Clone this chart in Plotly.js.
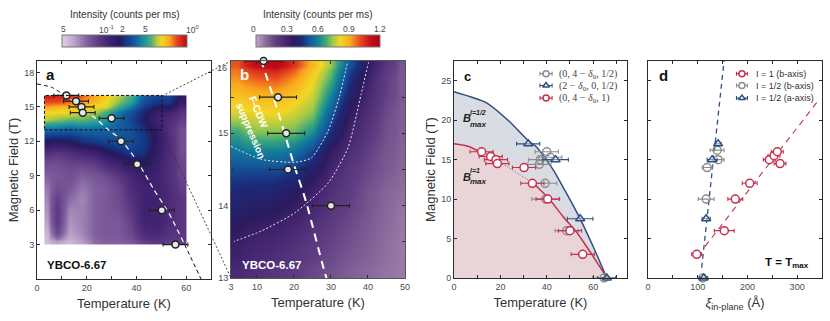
<!DOCTYPE html>
<html>
<head>
<meta charset="utf-8">
<script src="https://cdn.plot.ly/plotly-3.0.1.min.js"></script>
<style>html,body{margin:0;padding:0;background:#fff}#chart{width:830px;height:321px}</style>
</head>
<body>
<div id="chart"></div>
<script>
const W = 830, H = 321;

// field scan, panel a (cell edges, values are colour bar position 0..1)
const aEdgesT = [3, 5.5, 10.5, 15.5, 20.5, 25.5, 30.5, 35.5, 40.5, 45.5, 50.5, 55.5, 60];
const aEdgesB = [3, 3.5, 4.5, 5.5, 6.5, 7.5, 8.5, 9.5, 10.5, 11.5, 12.5, 13.5, 14.25, 14.75, 15.25, 15.75, 16];
const aZ = [
  [.04,.10,.05,.10,.18,.20,.20,.22,.28,.30,.28,.28],
  [.06,.26,.10,.14,.20,.22,.22,.26,.34,.36,.32,.30],
  [.10,.30,.12,.15,.20,.22,.22,.28,.38,.38,.34,.30],
  [.12,.30,.14,.15,.20,.22,.24,.30,.38,.38,.34,.30],
  [.14,.28,.18,.14,.20,.22,.25,.32,.38,.38,.34,.30],
  [.16,.24,.22,.16,.20,.22,.26,.34,.38,.38,.34,.28],
  [.20,.22,.24,.20,.22,.25,.30,.36,.40,.38,.33,.26],
  [.24,.24,.26,.26,.28,.34,.38,.42,.44,.40,.33,.26],
  [.32,.30,.32,.36,.38,.44,.48,.52,.50,.42,.34,.24],
  [.46,.44,.46,.50,.52,.54,.56,.56,.52,.44,.34,.24],
  [.60,.60,.58,.60,.60,.60,.58,.56,.50,.42,.32,.24],
  [.76,.74,.72,.72,.70,.66,.60,.54,.46,.38,.34,.28],
  [.80,.80,.80,.78,.76,.70,.62,.56,.48,.40,.38,.30],
  [.86,.84,.84,.82,.80,.78,.70,.62,.52,.46,.46,.36],
  [.92,.92,.90,.87,.84,.80,.74,.68,.56,.52,.52,.42],
  [.97,.96,.94,.90,.86,.81,.76,.70,.58,.54,.54,.44]
];

// zoomed field scan, panel b (counts per ms)
const bEdgesT = [3, 6.5, 12.5, 17.5, 22.5, 27.5, 32.5, 37.5, 42.5, 47.5, 50];
const bEdgesB = [13, 13.25, 13.75, 14.125, 14.375, 14.625, 14.875, 15.125, 15.375, 15.625, 15.875, 16];
const bZ = [
  [.28,.25,.22,.20,.17,.15,.12,.10,.08,.07],
  [.33,.30,.28,.25,.21,.18,.15,.12,.09,.07],
  [.40,.38,.36,.33,.28,.22,.18,.14,.10,.08],
  [.44,.43,.42,.39,.32,.25,.20,.15,.11,.09],
  [.50,.50,.50,.47,.40,.29,.22,.17,.13,.10],
  [.58,.60,.60,.58,.49,.34,.26,.19,.14,.11],
  [.66,.72,.72,.70,.62,.44,.30,.22,.15,.12],
  [.78,.80,.81,.78,.72,.52,.34,.25,.16,.12],
  [.85,.87,.88,.84,.78,.60,.40,.28,.18,.13],
  [.93,.98,1.00,.93,.82,.68,.46,.31,.19,.13],
  [1.00,1.12,1.15,1.05,.88,.74,.52,.36,.22,.14]
];

// dotted contours in panel b
const contourInnerT = [3, 11.2, 20.2, 24.7, 29.2, 32.4, 34.5];
const contourInnerB = [14.82, 14.64, 14.6, 14.66, 15.03, 15.53, 15.99];
const contourOuterT = [3.5, 11.2, 20.2, 29.2, 34.6, 38.1, 40.2];
const contourOuterB = [13.5, 13.65, 13.9, 14.31, 14.8, 15.53, 16];

// peak positions used in a and b
const peakT = [11.8, 15.7, 17.9, 18.4, 30, 33.8, 40.3, 50.2, 55.7];
const peakB = [16, 15.5, 15, 14.5, 14, 12, 10, 6, 3];
const peakErr = [5, 5, 5, 5, 5, 5, 5, 5, 5];

// boundary curves
const fitT = [0, 6, 10.5, 15.7, 19.8, 23.3, 28.2, 33.5, 40.5, 47, 52.9, 59.4, 66];
const fitB = [17, 16.7, 16.1, 15.3, 14.6, 14.05, 13.1, 12.2, 10.2, 7.8, 5.8, 3, 0];
const halfFitT = [0, 14, 24, 32, 35.6, 42.8, 48, 54.4, 60, 65.9];
const halfFitB = [23.6, 22.2, 19.8, 17.4, 16.6, 13.7, 11, 7.5, 4, 0];

// panel c
const redT = [11.9, 15.8, 18.1, 18.7, 30.2, 33.8, 40.4, 50, 55.5];
const redB = [16, 15.4, 15, 14.5, 14, 12, 10, 6, 3];
const redErr = [5, 5, 5, 5, 5, 5, 5, 5, 5];
const grayT = [40, 41.5, 37.2, 36.8, 39.3, 39.6, 48.6, 64.7];
const grayB = [16, 15.3, 15, 14.4, 12, 10, 6, 0];
const grayErr = [5, 5, 5, 5, 5, 6, 5, 5];
const blueT = [32, 43.8, 54.4, 65.9];
const blueB = [17, 15, 7.5, 0];
const blueErr = [5, 5.5, 5.5, 4];

// panel d
const redXi = [98, 153.5, 175.6, 204.6, 244, 253.5, 260, 265.6];
const redXiB = [3, 6, 10, 12, 15, 15.5, 16, 14.5];
const redXiErr = [10, 20, 15, 15, 12, 12, 12, 12];
const grayXi = [139, 141, 119, 117, 110];
const grayXiB = [16.2, 15, 14, 10, 0];
const grayXiErr = [14, 12, 10, 16, 8];
const blueXi = [141, 129, 117, 112];
const blueXiB = [17, 15, 7.5, 0];
const blueXiErr = [6, 10, 8, 8];
const redTrendXi = [114.7, 342.7];
const redTrendB = [4, 22.5];
const blueTrendXi = [108, 153];
const blueTrendB = [1.3, 27.5];

// legends
const legendBs = [25.9, 24.4, 22.8];
const legendLabelsC = ['(0, 4 − <i>δ</i><sub>0</sub>, 1/2)', '(2 − <i>δ</i><sub>0</sub>, 0, 1/2)', '(0, 4 − <i>δ</i><sub>0</sub>, 1)'];
const legendLabelsD = ['I = 1 (b-axis)', 'I = 1/2 (b-axis)', 'I = 1/2 (a-axis)'];

// colour bars
const barATickPx = [63, 106, 122, 145, 192];
const barATickText = ['5', '10<sup>-1</sup>', '2', '5', '10<sup>0</sup>'];
const barBTickPx = [253, 287, 318, 349, 380];
const barBTickText = ['0', '0.3', '0.6', '0.9', '1.2'];

const colorsA = [[0,'#e0d2e4'],[.1,'#b9a1c8'],[.2,'#80609e'],[.3,'#5a3681'],[.38,'#3f2270'],[.46,'#241a5e'],[.52,'#143a8a'],[.6,'#1465a5'],[.66,'#1a96a0'],[.72,'#5cb070'],[.76,'#b5cc40'],[.8,'#f5d820'],[.86,'#f9a81e'],[.92,'#e84020'],[1,'#b80a14']];
const colorsB = [[0,'#bfa9c8'],[.08,'#8a6a9c'],[.16,'#5f3d82'],[.24,'#452670'],[.3,'#2c1a5e'],[.37,'#1b2a78'],[.43,'#14559a'],[.5,'#127e9a'],[.56,'#3aa77a'],[.62,'#9fc94a'],[.68,'#f4d524'],[.76,'#f9a81e'],[.84,'#e84a20'],[.92,'#c4101a'],[1,'#b00012']];

const INK = '#2b2b2b', TICKTXT = '#4a4a4a';
const RED = '#c62f4e', GRAY = '#8d8d8d', BLUE = '#2f4f80';
const SANS = '"Liberation Sans", Arial, sans-serif';

const px = x => x / W;
const py = y => 1 - y / H;
function dom(x0, x1, y0, y1) {
  return { x: [px(x0), px(x1)], y: [py(y1), py(y0)] };
}
const pa = dom(37, 211, 61, 279), pb = dom(231, 405, 61, 278), pc = dom(454, 627, 61, 278), pd = dom(648, 822, 61, 278);

// labelled ticks plus unlabelled minor ones
function axis(domain, range, tickvals, minorvals, anchor, extra) {
  return Object.assign({
    domain, range, anchor, tickmode: 'array', tickvals, ticktext: tickvals.map(String),
    minor: { tickmode: 'array', tickvals: minorvals, ticks: 'inside', ticklen: 3, tickwidth: 1, tickcolor: INK, showgrid: false },
    showgrid: false, zeroline: false, showline: true, mirror: 'ticks', linecolor: INK, linewidth: 1,
    ticks: 'inside', ticklen: 3, tickwidth: 1, tickcolor: INK,
    tickfont: { family: SANS, size: 9, color: TICKTXT }
  }, extra || {});
}
const axTitle = (text, standoff) => ({ text, standoff, font: { family: SANS, size: 13, color: '#333' } });

function dots(x, y, err, xa, ya, symbol, fill, line, size) {
  return {
    x, y, xaxis: xa, yaxis: ya, type: 'scatter', mode: 'markers', cliponaxis: false, hoverinfo: 'skip',
    error_x: { type: 'data', array: err, visible: true, color: line, thickness: 1.1, width: 2 },
    marker: { symbol, size, color: fill, line: { color: line, width: 1.5 } }
  };
}
function curve(x, y, xa, ya, color, width, dash) {
  return { x, y, xaxis: xa, yaxis: ya, type: 'scatter', mode: 'lines', hoverinfo: 'skip', line: { color, width, dash, shape: 'spline', smoothing: 0.6 } };
}

const traces = [
  // panel a
  { type: 'heatmap', x: aEdgesT, y: aEdgesB, z: aZ, xaxis: 'x', yaxis: 'y', zsmooth: 'best', zmin: 0, zmax: 1, colorscale: colorsA, hoverinfo: 'skip',
    colorbar: { orientation: 'h', x: px(62), xanchor: 'left', y: py(48), yanchor: 'bottom', len: 125, lenmode: 'pixels', thickness: 12, thicknessmode: 'pixels', xpad: 0, ypad: 0, outlinecolor: '#777', outlinewidth: 1, showticklabels: false, ticks: '' } },
  curve(fitT.slice(0, 3), fitB.slice(0, 3), 'x', 'y', '#111', 1, '4px,3px'),
  curve(fitT.slice(2, 12), fitB.slice(2, 12), 'x', 'y', '#fff', 1.2, '5px,4px'),
  curve(fitT.slice(11), fitB.slice(11), 'x', 'y', '#111', 1, '4px,3px'),
  dots(peakT, peakB, peakErr, 'x', 'y', 'circle', '#e6e6e6', '#222', 7),

  // panel b
  { type: 'heatmap', x: bEdgesT, y: bEdgesB, z: bZ, xaxis: 'x2', yaxis: 'y2', zsmooth: 'best', zmin: 0, zmax: 1.2, colorscale: colorsB, hoverinfo: 'skip',
    colorbar: { orientation: 'h', x: px(256), xanchor: 'left', y: py(48), yanchor: 'bottom', len: 124, lenmode: 'pixels', thickness: 12, thicknessmode: 'pixels', xpad: 0, ypad: 0, outlinecolor: '#777', outlinewidth: 1, showticklabels: false, ticks: '' } },
  curve(contourInnerT, contourInnerB, 'x2', 'y2', '#e8e8f0', 1, '2px,2px'),
  curve(contourOuterT, contourOuterB, 'x2', 'y2', '#e8e8f0', 1, '2px,2px'),
  curve(fitT, fitB, 'x2', 'y2', '#fff', 2, '8px,6px'),
  dots(peakT.slice(0, 5), peakB.slice(0, 5), peakErr.slice(0, 5), 'x2', 'y2', 'circle', '#e6e6e6', '#222', 7),

  // panel c
  { x: halfFitT, y: halfFitB, xaxis: 'x3', yaxis: 'y3', type: 'scatter', mode: 'lines', fill: 'tozeroy', fillcolor: '#d9dce2', hoverinfo: 'skip', line: { color: BLUE, width: 1.5, shape: 'spline', smoothing: 0.6 } },
  { x: fitT, y: fitB, xaxis: 'x3', yaxis: 'y3', type: 'scatter', mode: 'lines', fill: 'tozeroy', fillcolor: '#e9d5d8', hoverinfo: 'skip', line: { color: 'rgba(0,0,0,0)', width: 0, shape: 'spline', smoothing: 0.6 } },
  curve(fitT.slice(0, 3), fitB.slice(0, 3), 'x3', 'y3', RED, 1.5),
  curve(fitT.slice(2, 8), fitB.slice(2, 8), 'x3', 'y3', RED, 1, '1px,2px'),
  curve(fitT.slice(7), fitB.slice(7), 'x3', 'y3', RED, 1.5),
  dots(grayT, grayB, grayErr, 'x3', 'y3', 'circle', 'rgba(255,255,255,0)', GRAY, 8),
  dots(blueT, blueB, blueErr, 'x3', 'y3', 'triangle-up', 'rgba(255,255,255,0.4)', BLUE, 8),
  dots(redT, redB, redErr, 'x3', 'y3', 'circle', '#fff', RED, 8),
  dots([39.7], [legendBs[0]], [2.6], 'x3', 'y3', 'circle', '#fff', GRAY, 6),
  dots([39.7], [legendBs[1]], [2.6], 'x3', 'y3', 'triangle-up', '#fff', BLUE, 6),
  dots([39.7], [legendBs[2]], [2.6], 'x3', 'y3', 'circle', '#fff', RED, 6),

  // panel d
  { x: redTrendXi, y: redTrendB, xaxis: 'x4', yaxis: 'y4', type: 'scatter', mode: 'lines', hoverinfo: 'skip', line: { color: RED, width: 1.1, dash: '6px,5px' } },
  { x: blueTrendXi, y: blueTrendB, xaxis: 'x4', yaxis: 'y4', type: 'scatter', mode: 'lines', hoverinfo: 'skip', line: { color: BLUE, width: 1.3, dash: '5px,4px' } },
  dots(grayXi, grayXiB, grayXiErr, 'x4', 'y4', 'circle', 'rgba(255,255,255,0)', GRAY, 8),
  dots(blueXi, blueXiB, blueXiErr, 'x4', 'y4', 'triangle-up', 'rgba(255,255,255,0.4)', BLUE, 8),
  dots(redXi, redXiB, redXiErr, 'x4', 'y4', 'circle', '#fff', RED, 8),
  dots([189], [legendBs[0]], [11], 'x4', 'y4', 'circle', '#fff', RED, 6),
  dots([189], [legendBs[1]], [11], 'x4', 'y4', 'circle', '#fff', GRAY, 6),
  dots([189], [legendBs[2]], [11], 'x4', 'y4', 'triangle-up', '#fff', BLUE, 6)
];

// text placed by pixel position
function note(text, x, y, size, color, opts) {
  return Object.assign({
    text, x: px(x), y: py(y), xref: 'paper', yref: 'paper', showarrow: false, xanchor: 'left', yanchor: 'middle',
    font: { family: SANS, size, color }
  }, opts || {});
}
const centre = { xanchor: 'center' };
const annotations = [
  note('Intensity (counts per ms)', 124.5, 14, 10, '#333', centre),
  note('Intensity (counts per ms)', 317, 14, 10, '#333', centre),
  note('<b>a</b>', 44, 74, 15, '#111'),
  note('<b>b</b>', 238, 74, 15, '#fff'),
  note('<b>c</b>', 462, 76, 13, '#111'),
  note('<b>d</b>', 657, 75, 15, '#111'),
  note('<b>YBCO-6.67</b>', 45, 265, 11.5, '#111'),
  note('<b>YBCO-6.67</b>', 240, 265, 11.5, '#fff'),
  note('16', 229, 68, 9, TICKTXT, { xanchor: 'right' }),
  note('<b>F-CDW</b>', 259, 112, 10, '#fff', { xanchor: 'center', textangle: 67 }),
  note('<b>suppression</b>', 251, 130, 10, '#fff', { xanchor: 'center', textangle: 67 }),
  note('<b><i>B</i></b>', 461, 118, 11, '#222'),
  note('<b><i>l=1/2</i></b>', 468, 113, 7, '#222'),
  note('<b><i>max</i></b>', 468, 124, 8, '#222'),
  note('<b><i>B</i></b>', 461, 177, 11, '#222'),
  note('<b><i>l=1</i></b>', 468, 171, 7, '#222'),
  note('<b><i>max</i></b>', 468, 182, 8, '#222'),
  note('<b>T = T<sub>max</sub></b>', 763, 263, 11.5, '#111')
];
barATickPx.forEach((x, i) => annotations.push(note(barATickText[i], x, 29, 8.5, TICKTXT, centre)));
barBTickPx.forEach((x, i) => annotations.push(note(barBTickText[i], x, 29, 8.5, TICKTXT, centre)));
[74, 86, 98].forEach((y, i) => {
  annotations.push(note(legendLabelsC[i], 557, y, 10, '#444', { font: { family: '"Liberation Serif", serif', size: 10, color: '#444' } }));
  annotations.push(note(legendLabelsD[i], 754, y, 9, '#333'));
});

// inset rectangle in a and the connector lines over to b
const shapes = [
  { type: 'rect', xref: 'x', yref: 'y', x0: 3, x1: 50.3, y0: 13, y1: 16, line: { color: '#111', width: 1, dash: '3px,2px' } },
  { type: 'line', xref: 'paper', yref: 'paper', x0: px(162), y0: py(96), x1: px(231), y1: py(61), line: { color: '#333', width: 0.9, dash: '2px,2px' } },
  { type: 'line', xref: 'paper', yref: 'paper', x0: px(162), y0: py(130), x1: px(231), y1: py(278), line: { color: '#333', width: 0.9, dash: '2px,2px' } }
];

const layout = {
  width: W, height: H, showlegend: false, paper_bgcolor: '#fff', plot_bgcolor: '#fff',
  margin: { l: 0, r: 0, t: 0, b: 0, autoexpand: false },
  font: { family: SANS },
  annotations, shapes,
  xaxis: axis(pa.x, [0, 70], [0, 20, 40, 60], [10, 30, 50], 'y', { title: axTitle('Temperature (K)', 7) }),
  yaxis: axis(pa.y, [0, 19], [3, 6, 9, 12, 15, 18], [], 'x', { title: axTitle('Magnetic Field (T)', 2) }),
  xaxis2: axis(pb.x, [3, 50], [3, 10, 20, 30, 40, 50], [], 'y2', { title: axTitle('Temperature (K)', 7), linecolor: '#555' }),
  yaxis2: axis(pb.y, [13, 16], [13, 14, 15], [13.5, 14.5, 15.5], 'x2', { linecolor: '#555' }),
  xaxis3: axis(pc.x, [0, 74.6], [0, 20, 40, 60], [10, 30, 50, 70], 'y3', { title: axTitle('Temperature (K)', 7) }),
  yaxis3: axis(pc.y, [0, 27.5], [0, 5, 10, 15, 20, 25], [], 'x3', { title: axTitle('Magnetic Field (T)', 2) }),
  xaxis4: axis(pd.x, [0, 350], [0, 100, 200, 300], [50, 150, 250], 'y4', { title: axTitle('<i>ξ</i><sub>in-plane</sub> (Å)', 7) }),
  yaxis4: axis(pd.y, [0, 27.5], [0, 5, 10, 15, 20, 25], [], 'x4', { showticklabels: false })
};

Plotly.newPlot('chart', traces, layout, { staticPlot: true, displayModeBar: false });
</script>
</body>
</html>
